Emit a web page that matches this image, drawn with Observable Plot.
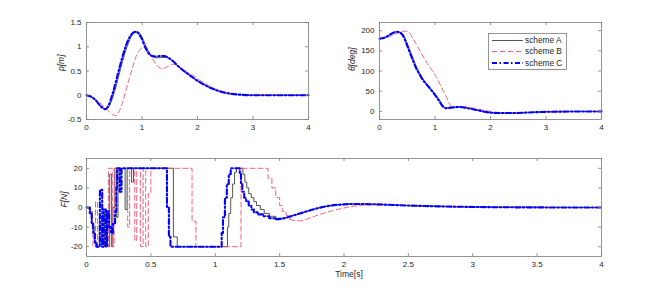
<!DOCTYPE html>
<html>
<head>
<meta charset="utf-8">
<script src="https://cdn.jsdelivr.net/npm/d3@7"></script>
<script src="https://cdn.jsdelivr.net/npm/@observablehq/plot@0.6"></script>
<style>
  html, body { margin: 0; padding: 0; background: #fff; }
  #wrap { position: relative; width: 664px; height: 288px; background: #fff; overflow: hidden; }
  #wrap > svg, #wrap > div { position: absolute; }
</style>
</head>
<body>
<div id="wrap"></div>
<script>
// ---------- DATA ----------
const schemes = ["scheme A", "scheme B", "scheme C"];

// p [m] vs time
const pSchemeA = [[0,0],[0.1,-0.04],[0.17,-0.11],[0.25,-0.21],[0.35,-0.29],[0.42,-0.2],[0.5,0.05],[0.56,0.3],[0.62,0.57],[0.68,0.82],[0.74,1.03],[0.83,1.25],[0.92,1.31],[1.0,1.2],[1.09,0.96],[1.18,0.8],[1.27,0.77],[1.35,0.78],[1.42,0.78],[1.49,0.75],[1.56,0.7],[1.67,0.58],[1.86,0.41],[2.04,0.27],[2.22,0.16],[2.4,0.08],[2.6,0.03],[2.8,0.01],[3,0],[4,0]];
const pSchemeB = [[0,0],[0.1,-0.03],[0.2,-0.12],[0.3,-0.22],[0.4,-0.33],[0.47,-0.4],[0.53,-0.42],[0.59,-0.33],[0.65,-0.15],[0.71,0.1],[0.77,0.34],[0.83,0.57],[0.89,0.79],[0.95,0.92],[1.01,0.98],[1.07,1.0],[1.12,0.93],[1.16,0.82],[1.22,0.7],[1.28,0.6],[1.33,0.56],[1.38,0.55],[1.44,0.58],[1.5,0.62],[1.58,0.64],[1.65,0.61],[1.72,0.55],[1.82,0.47],[1.92,0.41],[2.04,0.31],[2.16,0.23],[2.28,0.15],[2.4,0.1],[2.6,0.04],[2.8,0.01],[3,0],[4,0]];
const pSchemeC = [[0,0],[0.1,-0.04],[0.17,-0.11],[0.25,-0.22],[0.34,-0.29],[0.4,-0.2],[0.47,0.03],[0.53,0.28],[0.59,0.55],[0.65,0.8],[0.71,1.02],[0.8,1.24],[0.89,1.31],[0.98,1.2],[1.07,0.96],[1.16,0.82],[1.25,0.8],[1.33,0.81],[1.4,0.81],[1.47,0.78],[1.55,0.71],[1.67,0.58],[1.86,0.41],[2.04,0.27],[2.22,0.16],[2.4,0.08],[2.6,0.03],[2.8,0.01],[3,0],[4,0]];

// theta [deg] vs time
const thSchemeA = [[0,180],[0.1,183],[0.2,191],[0.31,197],[0.38,195],[0.44,187],[0.5,168],[0.56,147],[0.62,126],[0.68,106],[0.74,91],[0.8,77],[0.86,67],[0.92,57],[0.98,47],[1.04,36],[1.09,26],[1.13,17],[1.17,11],[1.22,8],[1.3,9.5],[1.36,10],[1.45,11],[1.55,9],[1.63,7],[1.8,2],[2.0,-3],[2.2,-4],[2.4,-4],[2.7,-2.5],[3,-1],[3.5,-0.3],[4,0]];
const thSchemeB = [[0,180],[0.1,182],[0.2,186],[0.3,192],[0.4,197],[0.48,199],[0.54,195],[0.6,181],[0.66,167],[0.72,152],[0.78,137],[0.84,123],[0.9,111],[0.96,99],[1.02,86],[1.08,70],[1.14,53],[1.2,37],[1.24,25],[1.27,16],[1.31,11],[1.36,10],[1.45,12],[1.52,12],[1.6,10],[1.7,8],[1.8,5],[1.93,2],[2.05,-2],[2.2,-4],[2.4,-4],[2.7,-2.5],[3,-1],[3.5,-0.3],[4,0]];
const thSchemeC = [[0,180],[0.1,183],[0.2,191],[0.31,197],[0.37,195],[0.42,188],[0.48,170],[0.54,148],[0.6,127],[0.66,107],[0.72,92],[0.78,78],[0.84,68],[0.9,58],[0.96,48],[1.02,37],[1.07,27],[1.11,18],[1.15,11],[1.2,8],[1.27,9],[1.33,10],[1.45,11],[1.55,9],[1.63,7],[1.8,2],[2.0,-3],[2.2,-4],[2.4,-4],[2.7,-2.5],[3,-1],[3.5,-0.3],[4,0]];

// F [N] vs time: piecewise-constant control part ...
const fStepA = [[0,0],[0.03,-2],[0.045,-10],[0.06,-17],[0.075,-20],[0.1,-8],[0.115,-20],[0.14,-2],[0.16,-20],[0.18,17],[0.195,-20],[0.205,0],[0.22,20],[0.232,-5],[0.245,20],[0.3,-1],[0.315,20],[0.35,13],[0.365,20],[0.675,-15],[0.705,-20],[1.095,-10],[1.105,-3],[1.12,5],[1.135,12],[1.15,18],[1.165,20],[1.215,17],[1.23,13],[1.245,10],[1.26,7],[1.28,5],[1.3,3],[1.32,1],[1.35,-1],[1.38,-3],[1.42,-4.5],[1.47,-5.5]];
const fStepB = [[0,0],[0.02,-2],[0.04,-8],[0.05,-20],[0.07,3],[0.085,-20],[0.1,-5],[0.12,-20],[0.17,20],[0.2,-20],[0.215,20],[0.32,-10],[0.335,20],[0.375,-17],[0.39,20],[0.42,-20],[0.44,20],[0.46,-20],[0.48,7],[0.5,20],[0.82,-7],[0.85,-20],[1.2,20],[1.41,15],[1.44,10],[1.47,5],[1.5,1],[1.52,-2],[1.55,-4],[1.58,-6]];
const fStepC = [[0,0],[0.026,-3],[0.04,-8],[0.052,-13],[0.065,-18],[0.078,-20],[0.104,9],[0.122,-20],[0.132,-1],[0.15,-20],[0.16,-2],[0.175,-10],[0.19,-13],[0.205,-8],[0.222,-2],[0.232,10],[0.238,20],[0.258,8],[0.272,20],[0.625,0],[0.64,-15],[0.652,-20],[1.05,-13],[1.06,-5],[1.075,5],[1.09,12],[1.105,17],[1.12,20],[1.19,17],[1.2,12],[1.21,8],[1.225,5],[1.24,3],[1.26,1],[1.28,-1],[1.3,-2.5],[1.33,-3.5],[1.37,-4.5],[1.42,-5.5],[1.47,-6]];
// ... and smooth settling tail
const fTailA = [[1.47,-5.5],[1.52,-5.5],[1.58,-4.6],[1.65,-3.2],[1.72,-1.8],[1.8,-0.3],[1.9,1.0],[2.0,1.6],[2.1,1.8],[2.3,1.5],[2.5,1.0],[2.8,0.5],[3.1,0.2],[3.5,0.05],[4,0]];
const fTailB = [[1.58,-6],[1.62,-6.8],[1.66,-6.8],[1.7,-6.2],[1.75,-5],[1.8,-3.8],[1.88,-2.2],[1.95,-1],[2.05,0.4],[2.2,1.3],[2.35,1.3],[2.5,0.9],[2.8,0.4],[3.1,0.15],[3.5,0.05],[4,0]];
const fTailC = [[1.47,-6],[1.52,-5.7],[1.58,-4.6],[1.65,-3.2],[1.72,-1.8],[1.8,-0.3],[1.9,1.0],[2.0,1.6],[2.1,1.8],[2.3,1.5],[2.5,1.0],[2.8,0.5],[3.1,0.2],[3.5,0.05],[4,0]];

// tick labels
const xTicksTop = [0, 1, 2, 3, 4];
const xTicksBottom = [0, 0.5, 1, 1.5, 2, 2.5, 3, 3.5, 4];
const pTicks = [-0.5, 0, 0.5, 1, 1.5];
const thTicks = [0, 50, 100, 150, 200];
const fTicks = [-20, -10, 0, 10, 20];

// ---------- STYLE ----------
const styles = {
  "scheme A": {stroke: "#2b2b2b", strokeWidth: 0.8, strokeDasharray: null},
  "scheme B": {stroke: "#f0506e", strokeWidth: 0.9, strokeDasharray: "5,3"},
  "scheme C": {stroke: "#0000ff", strokeWidth: 2.1, strokeDasharray: "5,2.5,1.5,2.5"}
};
const FRAME = "#7a7a7a";
const TEXT = "#262626";
const FONT = "'Liberation Sans', Arial, Helvetica, sans-serif";

function panel({left, top, width, height, mt, mr, mb, ml, yDomain, xTicks, yTicks, series, ylabel, ylabelDx, xlabel, ylabelPad}) {
  const fw = width - ml - mr, fh = height - mt - mb;
  const marks = [];
  series.forEach(([name, data, curve]) => {
    const s = styles[name];
    marks.push(Plot.line(data, {x: d => d[0], y: d => d[1], curve, stroke: s.stroke, strokeWidth: s.strokeWidth, strokeDasharray: s.strokeDasharray || undefined, strokeLinejoin: "round"}));
  });
  marks.push(
    Plot.frame({stroke: FRAME, strokeWidth: 0.8}),
    Plot.tickX(xTicks, {x: d => d, insetTop: fh - 3, stroke: FRAME, strokeWidth: 0.8}),
    Plot.tickX(xTicks, {x: d => d, insetBottom: fh - 3, stroke: FRAME, strokeWidth: 0.8}),
    Plot.tickY(yTicks, {y: d => d, insetRight: fw - 3, stroke: FRAME, strokeWidth: 0.8}),
    Plot.tickY(yTicks, {y: d => d, insetLeft: fw - 3, stroke: FRAME, strokeWidth: 0.8}),
    Plot.axisX({ticks: xTicks, tickSize: 0, tickPadding: 5, label: null, tickFormat: d => String(d), fill: TEXT}),
    Plot.axisY({ticks: yTicks, tickSize: 0, tickPadding: ylabelPad, label: null, tickFormat: d => String(d), fill: TEXT}),
    Plot.text([ylabel], {text: d => d, frameAnchor: "left", dx: ylabelDx, rotate: -90, fontStyle: "italic", fontSize: 8.5, fill: TEXT})
  );
  if (xlabel) marks.push(Plot.text([xlabel], {text: d => d, frameAnchor: "bottom", dy: 20, dx: 5, fontSize: 8.5, fill: TEXT}));
  const svg = Plot.plot({
    width, height, marginTop: mt, marginRight: mr, marginBottom: mb, marginLeft: ml,
    x: {domain: [0, 4]},
    y: {domain: yDomain},
    style: {fontFamily: FONT, fontSize: "8px", color: TEXT, background: "transparent", overflow: "visible"},
    marks
  });
  svg.style.left = left + "px";
  svg.style.top = top + "px";
  return svg;
}

const wrap = document.getElementById("wrap");
const smooth = "monotone-x", step = "step-after";

wrap.appendChild(panel({
  left: 0, top: 0, width: 330, height: 140, mt: 22, mr: 22, mb: 21, ml: 86,
  yDomain: [-0.5, 1.5], xTicks: xTicksTop, yTicks: pTicks,
  series: [["scheme A", pSchemeA, smooth], ["scheme B", pSchemeB, smooth], ["scheme C", pSchemeC, smooth]],
  ylabel: "p[m]", ylabelDx: -25, ylabelPad: 5
}));

wrap.appendChild(panel({
  left: 330, top: 0, width: 334, height: 140, mt: 22, mr: 63, mb: 21, ml: 49,
  yDomain: [-20, 220], xTicks: xTicksTop, yTicks: thTicks,
  series: [["scheme A", thSchemeA, smooth], ["scheme B", thSchemeB, smooth], ["scheme C", thSchemeC, smooth]],
  ylabel: "θ[deg]", ylabelDx: -27, ylabelPad: 5
}));

wrap.appendChild(panel({
  left: 0, top: 140, width: 664, height: 148, mt: 18, mr: 63, mb: 32, ml: 86,
  yDomain: [-25, 25], xTicks: xTicksBottom, yTicks: fTicks,
  series: [["scheme A", fStepA, step], ["scheme A", fTailA, smooth],
           ["scheme B", fStepB, step], ["scheme B", fTailB, smooth],
           ["scheme C", fStepC, step], ["scheme C", fTailC, smooth]],
  ylabel: "F[N]", ylabelDx: -22, ylabelPad: 4, xlabel: "Time[s]"
}));

// ---------- LEGEND ----------
const leg = d3.create("svg").attr("width", 80).attr("height", 38)
  .style("left", "488px").style("top", "33px").style("position", "absolute");
leg.append("rect").attr("x", 0.5).attr("y", 0.5).attr("width", 78).attr("height", 36)
  .attr("fill", "#fff").attr("stroke", FRAME).attr("stroke-width", 0.8);
const rowsY = [7.5, 18.5, 30];
schemes.forEach((name, i) => {
  const s = styles[name];
  leg.append("line").attr("x1", 4).attr("x2", 35).attr("y1", rowsY[i]).attr("y2", rowsY[i])
    .attr("stroke", s.stroke).attr("stroke-width", s.strokeWidth)
    .attr("stroke-dasharray", s.strokeDasharray);
  leg.append("text").attr("x", 37).attr("y", rowsY[i]).attr("dy", "0.35em")
    .attr("font-family", FONT).attr("font-size", 8.3).attr("fill", TEXT).text(name);
});
wrap.appendChild(leg.node());
</script>
</body>
</html>
